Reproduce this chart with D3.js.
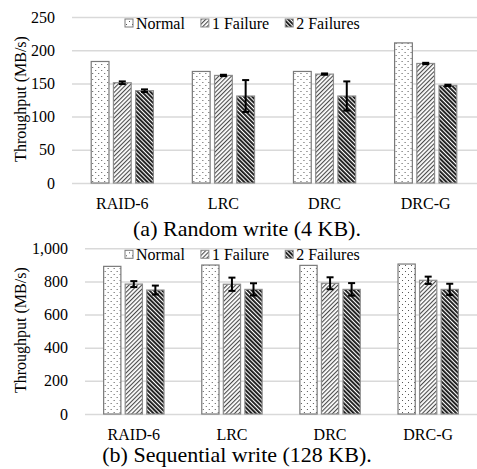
<!DOCTYPE html>
<html>
<head>
  <meta charset="utf-8">
  <title>Throughput</title>
  <script src="https://d3js.org/d3.v7.min.js"></script>
  <style>
    body { margin: 0; background: #fff; }
    svg text { font-family: "Liberation Serif", "Times New Roman", serif; fill: #000; }
  </style>
</head>
<body>
<svg id="chart" width="477" height="469"></svg>
<script>
  /* data */
  const codes = ['RAID-6', 'LRC', 'DRC', 'DRC-G'];
  const series = ['Normal', '1 Failure', '2 Failures'];

  // (a) random write, 4 KB
  const randNormal = [183, 168, 168, 211];
  const randFail1 = [151, 162, 164, 180];
  const randFail2 = [139, 131, 131, 147];
  const randErr1 = [2, 1, 1, 1];
  const randErr2 = [2, 24, 22, 1];
  const randTicks = [0, 50, 100, 150, 200, 250];

  // (b) sequential write, 128 KB
  const seqNormal = [891, 899, 897, 905];
  const seqFail1 = [784, 783, 789, 807];
  const seqFail2 = [748, 752, 752, 752];
  const seqErr1 = [18, 40, 36, 22];
  const seqErr2 = [27, 37, 38, 34];
  const seqTicks = [0, 200, 400, 600, 800, 1000];

  const svg = d3.select('#chart');

  /* fill patterns */
  const defs = svg.append('defs');

  const dots = defs.append('pattern')
    .attr('id', 'p-normal')
    .attr('patternUnits', 'userSpaceOnUse')
    .attr('width', 6).attr('height', 6);
  dots.append('rect').attr('width', 6).attr('height', 6).attr('fill', '#fff');
  dots.append('rect').attr('x', 1).attr('y', 1).attr('width', 1).attr('height', 1).attr('fill', '#555');
  dots.append('rect').attr('x', 4).attr('y', 4).attr('width', 1).attr('height', 1).attr('fill', '#555');

  const fwd = defs.append('pattern')
    .attr('id', 'p-fail1')
    .attr('patternUnits', 'userSpaceOnUse')
    .attr('width', 3).attr('height', 3)
    .attr('patternTransform', 'rotate(45)');
  fwd.append('rect').attr('width', 3).attr('height', 3).attr('fill', '#fff');
  fwd.append('rect').attr('width', 1.1).attr('height', 3).attr('fill', '#4a4a4a');

  const back = defs.append('pattern')
    .attr('id', 'p-fail2')
    .attr('patternUnits', 'userSpaceOnUse')
    .attr('width', 3).attr('height', 3)
    .attr('patternTransform', 'rotate(-45)');
  back.append('rect').attr('width', 3).attr('height', 3).attr('fill', '#fff');
  back.append('rect').attr('width', 1.9).attr('height', 3).attr('fill', '#1a1a1a');

  const fills = ['url(#p-normal)', 'url(#p-fail1)', 'url(#p-fail2)'];
  const strokes = ['#7a7a7a', '#8c8c8c', '#8c8c8c'];

  function panel(cfg) {
    const g = svg.append('g');

    const x0 = d3.scaleBand()
      .domain(codes)
      .range([cfg.left, cfg.right])
      .paddingInner(0.385)
      .paddingOuter(0.19);

    const x1 = d3.scaleBand()
      .domain(series)
      .range([0, x0.bandwidth()])
      .paddingInner(0.2);

    const y = d3.scaleLinear()
      .domain([0, d3.max(cfg.ticks)])
      .range([cfg.bottom, cfg.top]);

    // gridlines + tick labels
    const yAxis = d3.axisLeft(y)
      .tickValues(cfg.ticks)
      .tickSize(-(477 - cfg.left))
      .tickPadding(17)
      .tickFormat(d3.format(','));

    g.append('g')
      .attr('class', 'y-axis')
      .attr('transform', `translate(${cfg.left},0)`)
      .call(yAxis)
      .call(a => a.select('.domain').remove())
      .call(a => a.selectAll('line').attr('stroke', '#d9d9d9').attr('stroke-width', 1.5))
      .call(a => a.selectAll('text').attr('font-size', 16).attr('fill', '#000')
        .attr('font-family', '"Liberation Serif", serif'));

    const rows = codes.map((c, i) => ({
      code: c,
      vals: series.map((s, j) => ({
        s: s, j: j,
        v: cfg.values[j][i],
        e: j === 0 ? 0 : cfg.errors[j - 1][i]
      }))
    }));

    const grp = g.selectAll('.grp')
      .data(rows)
      .join('g')
      .attr('class', 'grp')
      .attr('transform', d => `translate(${x0(d.code)},0)`);

    grp.selectAll('rect')
      .data(d => d.vals)
      .join('rect')
      .attr('x', d => x1(d.s))
      .attr('y', d => y(d.v))
      .attr('width', x1.bandwidth())
      .attr('height', d => cfg.bottom - y(d.v))
      .attr('fill', d => fills[d.j])
      .attr('stroke', d => strokes[d.j])
      .attr('stroke-width', 1.2);

    // error bars
    const eb = grp.selectAll('.err')
      .data(d => d.vals.filter(v => v.j > 0))
      .join('g')
      .attr('class', 'err')
      .attr('transform', d => `translate(${x1(d.s) + x1.bandwidth() / 2},0)`);

    eb.append('line')
      .attr('y1', d => y(d.v + d.e)).attr('y2', d => y(d.v - d.e))
      .attr('stroke', '#000').attr('stroke-width', 2);
    eb.append('line')
      .attr('x1', -3.5).attr('x2', 3.5)
      .attr('y1', d => y(d.v + d.e)).attr('y2', d => y(d.v + d.e))
      .attr('stroke', '#000').attr('stroke-width', 2);
    eb.append('line')
      .attr('x1', -3.5).attr('x2', 3.5)
      .attr('y1', d => y(d.v - d.e)).attr('y2', d => y(d.v - d.e))
      .attr('stroke', '#000').attr('stroke-width', 2);

    // category labels
    g.selectAll('.cat')
      .data(codes)
      .join('text')
      .attr('class', 'cat')
      .attr('x', d => x0(d) + x0.bandwidth() / 2)
      .attr('y', cfg.bottom + 26)
      .attr('text-anchor', 'middle')
      .attr('font-size', 16)
      .text(d => d);

    // y title
    g.append('text')
      .attr('transform', `translate(26,${(cfg.top + cfg.bottom) / 2 - 1}) rotate(-90)`)
      .attr('text-anchor', 'middle')
      .attr('font-size', 16)
      .text('Throughput (MB/s)');

    // legend
    const leg = g.append('g')
      .attr('transform', `translate(125,${cfg.top + 6})`);
    let lx = 0;
    series.forEach((s, j) => {
      leg.append('rect')
        .attr('x', lx).attr('y', -4)
        .attr('width', 8).attr('height', 8)
        .attr('fill', fills[j])
        .attr('stroke', strokes[j]);
      const t = leg.append('text')
        .attr('x', lx + 11).attr('y', 5.5)
        .attr('font-size', 16)
        .text(s);
      lx += 11 + t.node().getComputedTextLength() + 16;
    });

    // caption
    g.append('text')
      .attr('x', cfg.capX)
      .attr('y', cfg.capY)
      .attr('text-anchor', 'middle')
      .attr('font-size', 22)
      .text(cfg.caption);
  }

  panel({
    left: 72, right: 476, top: 17, bottom: 183,
    ticks: randTicks,
    values: [randNormal, randFail1, randFail2],
    errors: [randErr1, randErr2],
    caption: '(a) Random write (4 KB).',
    capX: 247, capY: 236
  });

  panel({
    left: 85, right: 477, top: 248.3, bottom: 414,
    ticks: seqTicks,
    values: [seqNormal, seqFail1, seqFail2],
    errors: [seqErr1, seqErr2],
    caption: '(b) Sequential write (128 KB).',
    capX: 237, capY: 462
  });
</script>
</body>
</html>
